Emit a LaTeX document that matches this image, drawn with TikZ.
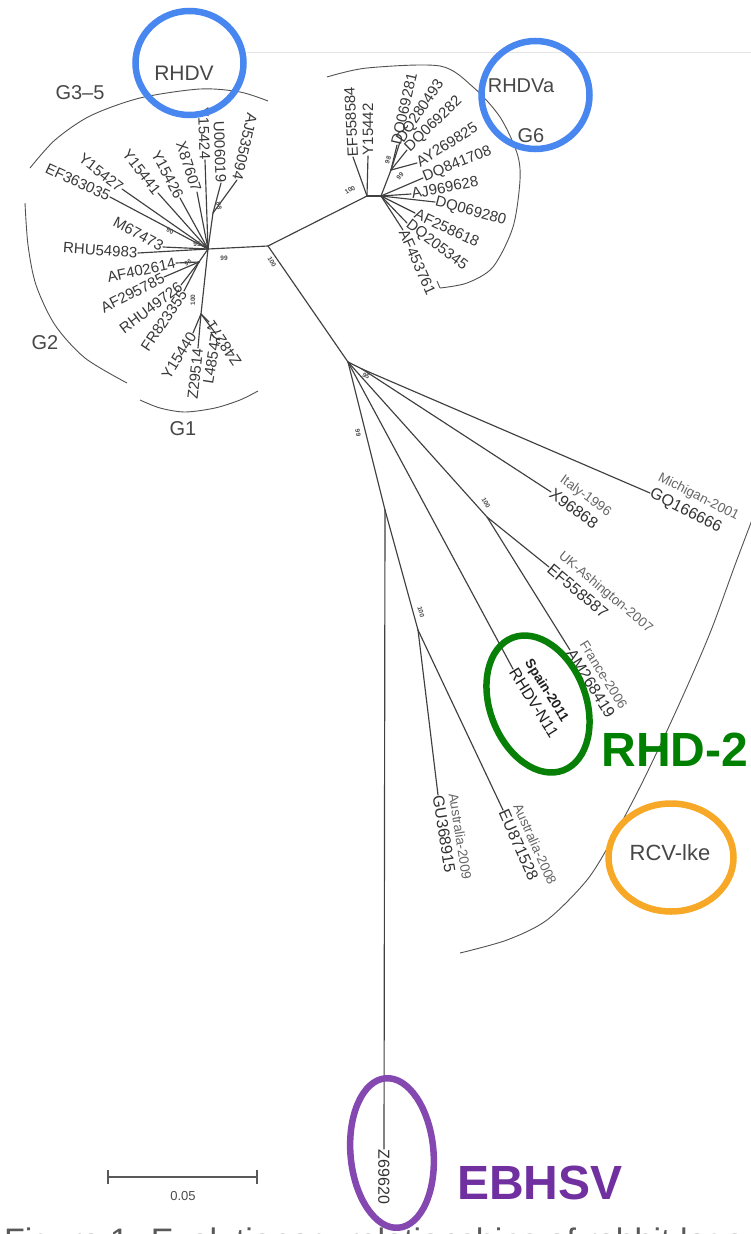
\documentclass[tikz,border=0pt]{standalone}
\usepackage{fontspec}
\setmainfont{Liberation Sans}
\definecolor{ringblue}{RGB}{72,134,240}
\definecolor{ringgreen}{RGB}{8,128,8}
\definecolor{ringorange}{RGB}{246,168,38}
\definecolor{ringpurple}{RGB}{132,72,176}
\definecolor{txtpurple}{RGB}{112,48,160}
\definecolor{txtgreen}{RGB}{0,128,0}
\begin{document}
\begin{tikzpicture}[x=1pt,y=-1pt,
  br/.style={draw=black!75, line width=1.15pt, line cap=round},
  tax/.style={inner sep=0.5pt, font=\fontsize{15}{15}\selectfont, text=black!78},
  code/.style={inner xsep=0.5pt, inner ysep=2pt, font=\fontsize{16}{16}\selectfont, text=black!80},
  place/.style={inner xsep=0.5pt, inner ysep=2.5pt, font=\fontsize{13.5}{14}\selectfont, text=black!60},
  boot/.style={inner sep=0pt, font=\fontsize{6.5}{7}\selectfont\bfseries, text=black!70},
  grp/.style={inner sep=0pt, font=\fontsize{20}{20}\selectfont, text=black!72},
  arcline/.style={draw=black!68, line width=0.9pt},
  ring/.style={line width=6.5pt},
]
\useasboundingbox (0,0) rectangle (751,1234);
\fill[white] (0,0) rectangle (751,1234);
\draw[black!10, line width=1pt] (247,52) -- (751,52);

% ---------- internal nodes ----------
\coordinate (H) at (208,249);
\coordinate (J) at (268,246);
\coordinate (K) at (367,196);
\coordinate (K2) at (381,196);
\coordinate (S1) at (391,170);
\coordinate (A) at (348,362);
\coordinate (B) at (362,369);
\coordinate (F) at (487,517);
\coordinate (E) at (385,510);
\coordinate (C) at (418,630);
\coordinate (N88) at (213,213);
\coordinate (L2) at (199,262);
\coordinate (G1n) at (201,314);

% ---------- left cluster (G1-G5) ----------
\node[tax, anchor=east, rotate=-25] (ef363) at (110,197) {EF363035};
\node[tax, anchor=east, rotate=-38] (y27) at (122,189) {Y15427};
\node[tax, anchor=east, rotate=-52] (y41) at (158,193) {Y15441};
\node[tax, anchor=east, rotate=-62] (y26) at (180,198) {Y15426};
\node[tax, anchor=east, rotate=-72] (x87) at (197,192) {X87607};
\node[tax, anchor=east, rotate=-88] (y24) at (205,160) {Y15424};
\node[tax, anchor=east, rotate=-88] (u06) at (221,183) {U006019};
\node[tax, anchor=east, rotate=-103] (aj53) at (237,180) {AJ535094};
\node[tax, anchor=east, rotate=-28] (m67) at (163,247) {M67473};
\node[tax, anchor=east, rotate=-4] (rhu54) at (138,253) {RHU54983};
\node[tax, anchor=east, rotate=12] (af40) at (176,263) {AF402614};
\node[tax, anchor=east, rotate=27] (af29) at (164,277) {AF295785};
\node[tax, anchor=east, rotate=37] (rhu49) at (181,285) {RHU49726};
\node[tax, anchor=east, rotate=56] (fr82) at (184,291) {FR823355};
\node[tax, anchor=east, rotate=58] (y40) at (193,333) {Y15440};
\node[tax, anchor=east, rotate=84] (z29) at (198,348) {Z29514};
\node[tax, anchor=east, rotate=81] (l48) at (216,334) {L48547};
\node[tax, anchor=east, rotate=124] (z48) at (209,322) {Z48271};

\foreach \t in {ef363,y27,y41,y26,x87,y24,m67,rhu54}
  \draw[br] (H) -- (\t.east);
\draw[br] (H) -- (N88);
\draw[br] (N88) -- (u06.east);
\draw[br] (N88) -- (aj53.east);
\draw[br] (H) -- (L2);
\foreach \t in {af40,af29,rhu49,fr82}
  \draw[br] (L2) -- (\t.east);
\draw[br] (H) -- (G1n);
\foreach \t in {y40,z29,l48,z48}
  \draw[br] (G1n) -- (\t.east);

% ---------- G6 cluster ----------
\node[tax, anchor=west, rotate=93] (ef84) at (353,157) {EF558584};
\node[tax, anchor=west, rotate=90] (y42) at (368,156) {Y15442};
\node[tax, anchor=west, rotate=77] (dq81) at (397,145) {DQ069281};
\node[tax, anchor=west, rotate=56] (dq93) at (400,142) {DQ280493};
\node[tax, anchor=west, rotate=44] (dq82) at (407,150) {DQ069282};
\node[tax, anchor=west, rotate=32] (ay25) at (417,163) {AY269825};
\node[tax, anchor=west, rotate=22] (dq08) at (423,178) {DQ841708};
\node[tax, anchor=west, rotate=11] (aj96) at (411,194) {AJ969628};
\node[tax, anchor=west, rotate=-15] (dq80) at (435,202) {DQ069280};
\node[tax, anchor=west, rotate=-25] (af58) at (415,213) {AF258618};
\node[tax, anchor=west, rotate=-37] (dq45) at (407,223) {DQ205345};
\node[tax, anchor=west, rotate=-66] (af61) at (403,230) {AF453761};

\draw[br] (K) -- (ef84.west);
\draw[br] (K) -- (y42.west);
\draw[br] (K) -- (K2);
\draw[br] (K2) -- (S1);
\foreach \t in {dq81,dq93,dq82,ay25}
  \draw[br] (S1) -- (\t.west);
\foreach \t in {dq08,aj96,dq80,af58,dq45,af61}
  \draw[br] (K2) -- (\t.west);

% ---------- backbone ----------
\draw[br] (H) -- (J);
\draw[br] (J) -- (K);
\draw[br] (J) -- (A);

% ---------- RHD-2 / RCV-like / EBHSV ----------
\node[code, anchor=west, rotate=-27] (gq) at (650,493) {GQ166666};
\node[place, anchor=south west, rotate=-27] (mich) at (gq.north west) {Michigan-2001};
\node[code, anchor=west, rotate=-36] (x96) at (551,492) {X96868};
\node[place, anchor=south west, rotate=-36] (ital) at (x96.north west) {Italy-1996};
\node[code, anchor=west, rotate=-40] (ef87) at (549,567) {EF558587};
\node[place, anchor=south west, rotate=-40] (ukas) at (ef87.north west) {UK-Ashington-2007};
\node[code, anchor=west, rotate=-58] (am26) at (570,650) {AM268419};
\node[place, anchor=south west, rotate=-58] (fran) at (am26.north west) {France-2006};
\node[code, anchor=west, rotate=-58, text=black!88] (rhdvn) at (513,669) {RHDV-N11};
\node[place, anchor=south west, rotate=-58, text=black!88,
      font=\fontsize{13.5}{14}\selectfont\bfseries] (spain) at (rhdvn.north west) {Spain-2011};
\node[code, anchor=west, rotate=-66] (eu87) at (503,810) {EU871528};
\node[place, anchor=south west, rotate=-66] (aus8) at (eu87.north west) {Australia-2008};
\node[code, anchor=west, rotate=-81] (gu36) at (438,795) {GU368915};
\node[place, anchor=south west, rotate=-81] (aus9) at (gu36.north west) {Australia-2009};
\node[code, anchor=west, rotate=-90] (z69) at (384,1149) {Z69620};

\draw[br] (A) -- (B);
\draw[br] (B) -- (gq.west);
\draw[br] (B) -- (x96.west);
\draw[br] (A) -- (F);
\draw[br] (F) -- (ef87.west);
\draw[br] (F) -- (am26.west);
\draw[br] (A) -- (rhdvn.west);
\draw[br] (A) -- (E);
\draw[br] (E) -- (C);
\draw[br] (C) -- (eu87.west);
\draw[br] (C) -- (gu36.west);
\draw[br] (E) -- (z69.west);

% ---------- bootstrap values ----------
\node[boot] (b1) at (224,258) {99};
\node[boot, rotate=-60] (b2) at (272,262) {100};
\node[boot, rotate=-80] (b3) at (219,206) {88};
\node[boot] (b4) at (197,244) {95};
\node[boot, rotate=-20] (b5) at (170,231) {90};
\node[boot, rotate=30] (b6) at (188,263) {96};
\node[boot, rotate=90] (b7) at (193,300) {100};
\node[boot, rotate=30] (b8) at (350,190) {100};
\node[boot, rotate=70] (b9) at (388,160) {98};
\node[boot, rotate=45] (b10) at (400,176) {99};
\node[boot, rotate=-30] (b11) at (366,376) {95};
\node[boot, rotate=-80] (b12) at (358,433) {99};
\node[boot, rotate=-60] (b13) at (486,503) {100};
\node[boot, rotate=-75] (b14) at (421,612) {100};

% ---------- group arcs ----------
\draw[arcline] plot[smooth] coordinates {(30,168) (55,140) (90,116) (140,98) (200,89) (240,92) (268,101)};
\draw[arcline] plot[smooth] coordinates {(25,203) (28,245) (36,285) (55,325) (85,358) (127,383)};
\draw[arcline] plot[smooth] coordinates {(140,400) (160,408) (185,412) (215,408) (240,400) (258,391)};
\draw[arcline] plot[smooth] coordinates {(327,77) (367,68) (440,66) (473,87) (500,117) (517,153) (520,180) (513,227) (493,267) (467,283) (440,288)};
\draw[arcline] (440,288) -- (437,281);
\draw[arcline] plot[smooth] coordinates {(752,520) (735,565) (712,628) (690,680) (665,735) (640,787) (613,838) (587,880) (547,920) (507,940) (460,953)};

\node[grp] (g35) at (80,93) {G3–5};
\node[grp] (g2) at (45,343) {G2};
\node[grp] (g1) at (183,429) {G1};

% ---------- scale bar ----------
\coordinate (sb1) at (108,1177);
\coordinate (sb2) at (257,1177);
\draw[draw=black!65, line width=1.3pt] (sb1) -- (sb2);
\draw[draw=black!65, line width=1.3pt] ([yshift=-7pt]sb1) -- ([yshift=7pt]sb1);
\draw[draw=black!65, line width=1.3pt] ([yshift=-7pt]sb2) -- ([yshift=7pt]sb2);
\node[inner sep=0pt, font=\fontsize{13}{13}\selectfont, text=black!70] (sbl) at (183,1196) {0.05};

% ---------- highlight rings ----------
\draw[ringblue, ring] (189.5,63) ellipse [x radius=54, y radius=52];
\node[grp, font=\fontsize{21}{21}\selectfont] (rhdv) at (184,73) {RHDV};
\draw[ringblue, ring] (535.5,95) ellipse [x radius=54, y radius=54];
\node[grp, font=\fontsize{20}{20}\selectfont] (rhdva) at (521,86) {RHDVa};
\node[grp, font=\fontsize{20}{20}\selectfont] (g6) at (531,136) {G6};

\draw[ringgreen, ring, rotate around={21:(538,704)}] (538,704) ellipse [x radius=48, y radius=71];
\node[inner sep=0pt, font=\fontsize{48}{48}\selectfont\bfseries, text=txtgreen] (rhd2) at (675,750) {RHD-2};

\draw[ringorange, ring] (671,857.5) ellipse [x radius=62.5, y radius=54];
\node[grp, font=\fontsize{22}{22}\selectfont] (rcv) at (670,853) {RCV-lke};

\draw[ringpurple, ring, rotate around={5:(392,1153)}] (392,1153) ellipse [x radius=41.5, y radius=75];
\node[inner sep=0pt, font=\fontsize{48}{48}\selectfont\bfseries, text=txtpurple] (ebhsv) at (540,1183) {EBHSV};

% ---------- cut-off caption ----------
\begin{scope}
\clip (0,1205) rectangle (751,1234);
\node[anchor=base west, inner sep=0pt, font=\fontsize{34}{34}\selectfont, text=black!65] (cap) at (4,1252) {Figure 1. Evolutionary relationships of rabbit lagoviruses};
\end{scope}
\end{tikzpicture}
\end{document}
